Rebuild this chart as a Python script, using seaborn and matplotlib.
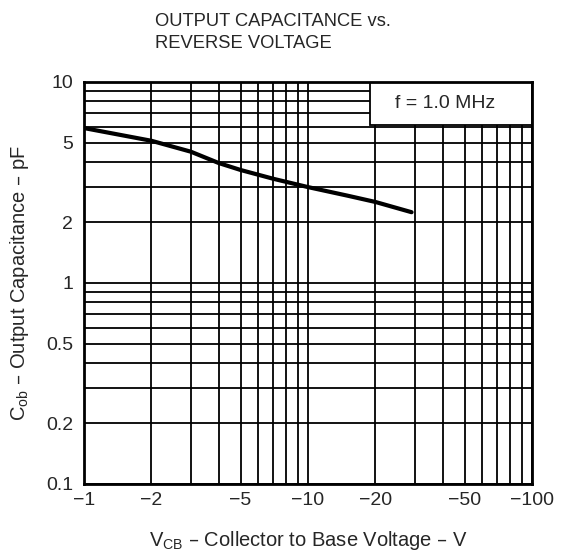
import matplotlib
matplotlib.use("Agg")
import matplotlib.pyplot as plt
import seaborn as sns
import numpy as np
import pandas as pd
from matplotlib.ticker import FixedLocator, NullFormatter, FixedFormatter
from matplotlib.patches import Rectangle

sns.set_style("white")
plt.rcParams['font.family'] = ['Liberation Sans', 'DejaVu Sans']

# Data
v_cb = [-1, -2, -3, -4, -5, -7, -10, -15, -20, -29]
c_ob = [5.9, 5.1, 4.5, 3.95, 3.65, 3.3, 3.0, 2.72, 2.53, 2.25]

x_ticks = [1, 2, 5, 10, 20, 50, 100]
x_tick_labels = ["\u22121", "\u22122", "\u22125", "\u221210", "\u221220", "\u221250", "\u2212100"]
y_ticks = [0.1, 0.2, 0.5, 1, 2, 5, 10]
y_tick_labels = ["0.1", "0.2", "0.5", "1", "2", "5", "10"]

df = pd.DataFrame({"vmag": np.abs(v_cb), "cob": c_ob})

W, H = 568, 555
fig = plt.figure(figsize=(W/100, H/100), dpi=100)
L, R, T, B = 84, 532, 82, 484
ax = fig.add_axes([L/W, 1 - B/H, (R-L)/W, (B-T)/H])

ax.set_xscale("log")
ax.set_yscale("log")
ax.set_xlim(1, 100)
ax.set_ylim(0.1, 10)

gx = [m * 10**d for d in range(0, 2) for m in range(1, 10)] + [100]
gy = [m * 10**d for d in range(-1, 1) for m in range(1, 10)] + [10]
ax.xaxis.set_major_locator(FixedLocator(x_ticks))
ax.xaxis.set_major_formatter(FixedFormatter(x_tick_labels))
ax.xaxis.set_minor_locator(FixedLocator(gx))
ax.xaxis.set_minor_formatter(NullFormatter())
ax.yaxis.set_major_locator(FixedLocator(y_ticks))
ax.yaxis.set_major_formatter(FixedFormatter(y_tick_labels))
ax.yaxis.set_minor_locator(FixedLocator(gy))
ax.yaxis.set_minor_formatter(NullFormatter())
ax.grid(True, which="both", color="black", linewidth=1.3)
ax.tick_params(which="both", length=0, labelsize=14)
ax.tick_params(axis="x", pad=6)
ax.tick_params(axis="y", pad=8)

sns.lineplot(data=df, x="vmag", y="cob", ax=ax, color="black", linewidth=3, zorder=3)

for s in ax.spines.values():
    s.set_color("black")
    s.set_linewidth(2)
    s.set_zorder(5)

ax.set_xlabel("V$_{\\mathregular{CB}}$ \u2013 Collector to Base Voltage \u2013 V", fontsize=14.5, labelpad=14)
ax.set_ylabel("C$_{\\mathregular{ob}}$ \u2013 Output Capacitance \u2013 pF", fontsize=14.5)
ax.yaxis.set_label_coords(-(84 - 31) / (R - L), 0.5)

# legend-like box covering the grid in the upper right
bx0 = (370 - L) / (R - L)
by0 = 1 - (125 - T) / (B - T)
ax.add_patch(Rectangle((bx0, by0), 1 - bx0, 1 - by0, transform=ax.transAxes,
                       facecolor="white", edgecolor="black", linewidth=1.3, zorder=4))
ax.text((445 - L) / (R - L), 1 - (104 - T) / (B - T), "f = 1.0 MHz", transform=ax.transAxes,
        fontsize=14, ha="center", va="center", zorder=6)

fig.text(155/W, 1 - 13/H, "OUTPUT CAPACITANCE vs.\nREVERSE VOLTAGE", fontsize=13.2,
         ha="left", va="top", linespacing=1.4)

fig.savefig("out.png", dpi=100)
